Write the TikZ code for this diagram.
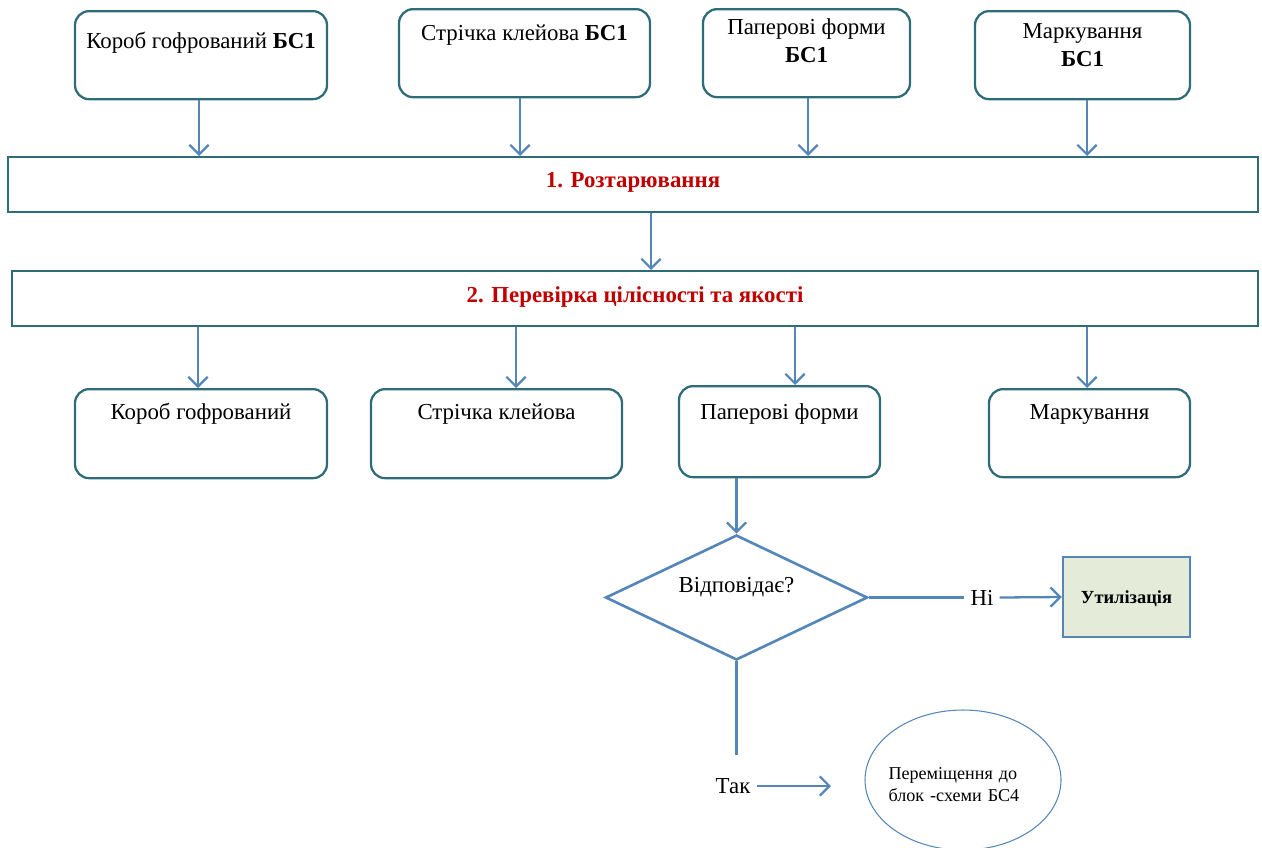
\documentclass[tikz,border=0pt]{standalone}
\usepackage{fontspec}
\setmainfont{Liberation Serif}
\usepackage{tikz}
\usetikzlibrary{arrows.meta,shapes.geometric}
\definecolor{boxline}{RGB}{47,108,122}
\definecolor{flowblue}{RGB}{84,134,184}
\definecolor{stepred}{RGB}{192,0,0}
\definecolor{utilfill}{RGB}{228,235,217}

\begin{document}
\begin{tikzpicture}[
    font=\fontsize{13}{15.5}\selectfont,
    itembox/.style={draw=boxline,line width=1.3pt,rounded corners=8pt,align=center,
      inner xsep=0pt,inner ysep=0pt,anchor=north},
    stagebar/.style={draw=boxline,line width=1.4pt,inner sep=0pt,anchor=north,
      text=stepred,font=\fontsize{13}{15.5}\selectfont\bfseries},
    flow/.style={-{Straight Barb[length=5.5pt,width=11pt]},draw=flowblue,line width=1.3pt},
    flowline/.style={draw=flowblue,line width=1.3pt}]
  \useasboundingbox (0,0) rectangle (25.24,-16.94);
  \node[itembox,minimum width=5.04cm,text height=0.74cm,text depth=1.02cm] (korob) at (4.02,-0.2) {Короб гофрований \textbf{БС1}};
  \node[itembox,minimum width=5.02cm,text height=0.62cm,text depth=1.14cm] (strichka) at (10.49,-0.16) {Стрічка клейова \textbf{БС1}};
  \node[itembox,minimum width=4.14cm,text height=1.06cm,text depth=0.7cm] (formy) at (16.13,-0.16) {Паперові форми\\\textbf{БС1}};
  \node[itembox,minimum width=4.3cm,text height=1.1cm,text depth=0.66cm] (markuv) at (21.65,-0.2) {Маркування\\\textbf{БС1}};
  \node[stagebar,minimum width=25cm,text height=0.6cm,text depth=0.5cm] (roztar) at (12.66,-3.12) {1. Розтарювання};
  \node[stagebar,minimum width=24.92cm,text height=0.62cm,text depth=0.48cm] (perevirka) at (12.7,-5.4) {2. Перевірка цілісності та якості};
  \node[itembox,minimum width=5.04cm,text height=0.6cm,text depth=1.18cm] (korob2) at (4.02,-7.76) {Короб гофрований};
  \node[itembox,minimum width=5.02cm,text height=0.6cm,text depth=1.18cm] (strichka2) at (9.93,-7.76) {Стрічка клейова};
  \node[itembox,minimum width=4.02cm,text height=0.66cm,text depth=1.16cm] (formy2) at (15.59,-7.7) {Паперові форми};
  \node[itembox,minimum width=4.02cm,text height=0.6cm,text depth=1.16cm] (markuv2) at (21.79,-7.76) {Маркування};
  \node[diamond,draw=flowblue,line width=1.5pt,aspect=2.07,inner sep=0pt,
    minimum width=5.24cm,minimum height=2.5cm,text height=0.5cm,text depth=0.72cm] (check) at (14.73,-11.95) {Відповідає?};
  \node (ni) at (19.64,-11.95) {Ні};
  \node[draw=flowblue,line width=1.4pt,fill=utilfill,minimum width=2.54cm,minimum height=1.6cm,
    text height=0.3cm,text depth=0.04cm,font=\fontsize{10.5}{12}\selectfont\bfseries] (util) at (22.53,-11.94) {Утилізація};
  \node (tak) at (14.66,-15.72) {Так};
  \node[ellipse,draw=flowblue,line width=0.6pt,inner ysep=0pt,inner xsep=-0.2cm,minimum width=3.92cm,minimum height=2.8cm,
    text width=2.98cm,text height=0.42cm,align=left,font=\fontsize{10.3}{13}\selectfont] (bs4) at (19.26,-15.6) {Переміщення до\\блок -схеми БС4};

  \draw[flow] (3.98,0 |- korob.south) -- (3.98,0 |- roztar.north);
  \draw[flow] (10.4,0 |- strichka.south) -- (10.4,0 |- roztar.north);
  \draw[flow] (16.16,0 |- formy.south) -- (16.16,0 |- roztar.north);
  \draw[flow] (21.74,0 |- markuv.south) -- (21.74,0 |- roztar.north);
  \draw[flow] (13.02,0 |- roztar.south) -- (13.02,0 |- perevirka.north);
  \draw[flow] (3.96,0 |- perevirka.south) -- (3.96,0 |- korob2.north);
  \draw[flow] (10.32,0 |- perevirka.south) -- (10.32,0 |- strichka2.north);
  \draw[flow] (15.9,0 |- perevirka.south) -- (15.9,0 |- formy2.north);
  \draw[flow] (21.74,0 |- perevirka.south) -- (21.74,0 |- markuv2.north);
  \draw[flow] (check.north |- formy2.south) -- (check.north);
  \draw[flowline] (check.east) -- (ni.west);
  \draw[flow] (ni.east) -- (util.west);
  \draw[flowline,shorten >=0.34cm] (check.south) -- (check.south |- tak.north);
  \draw[flow,shorten >=0.7cm] (tak.east) -- (tak.east -| 17.32,0);
\end{tikzpicture}
\end{document}
